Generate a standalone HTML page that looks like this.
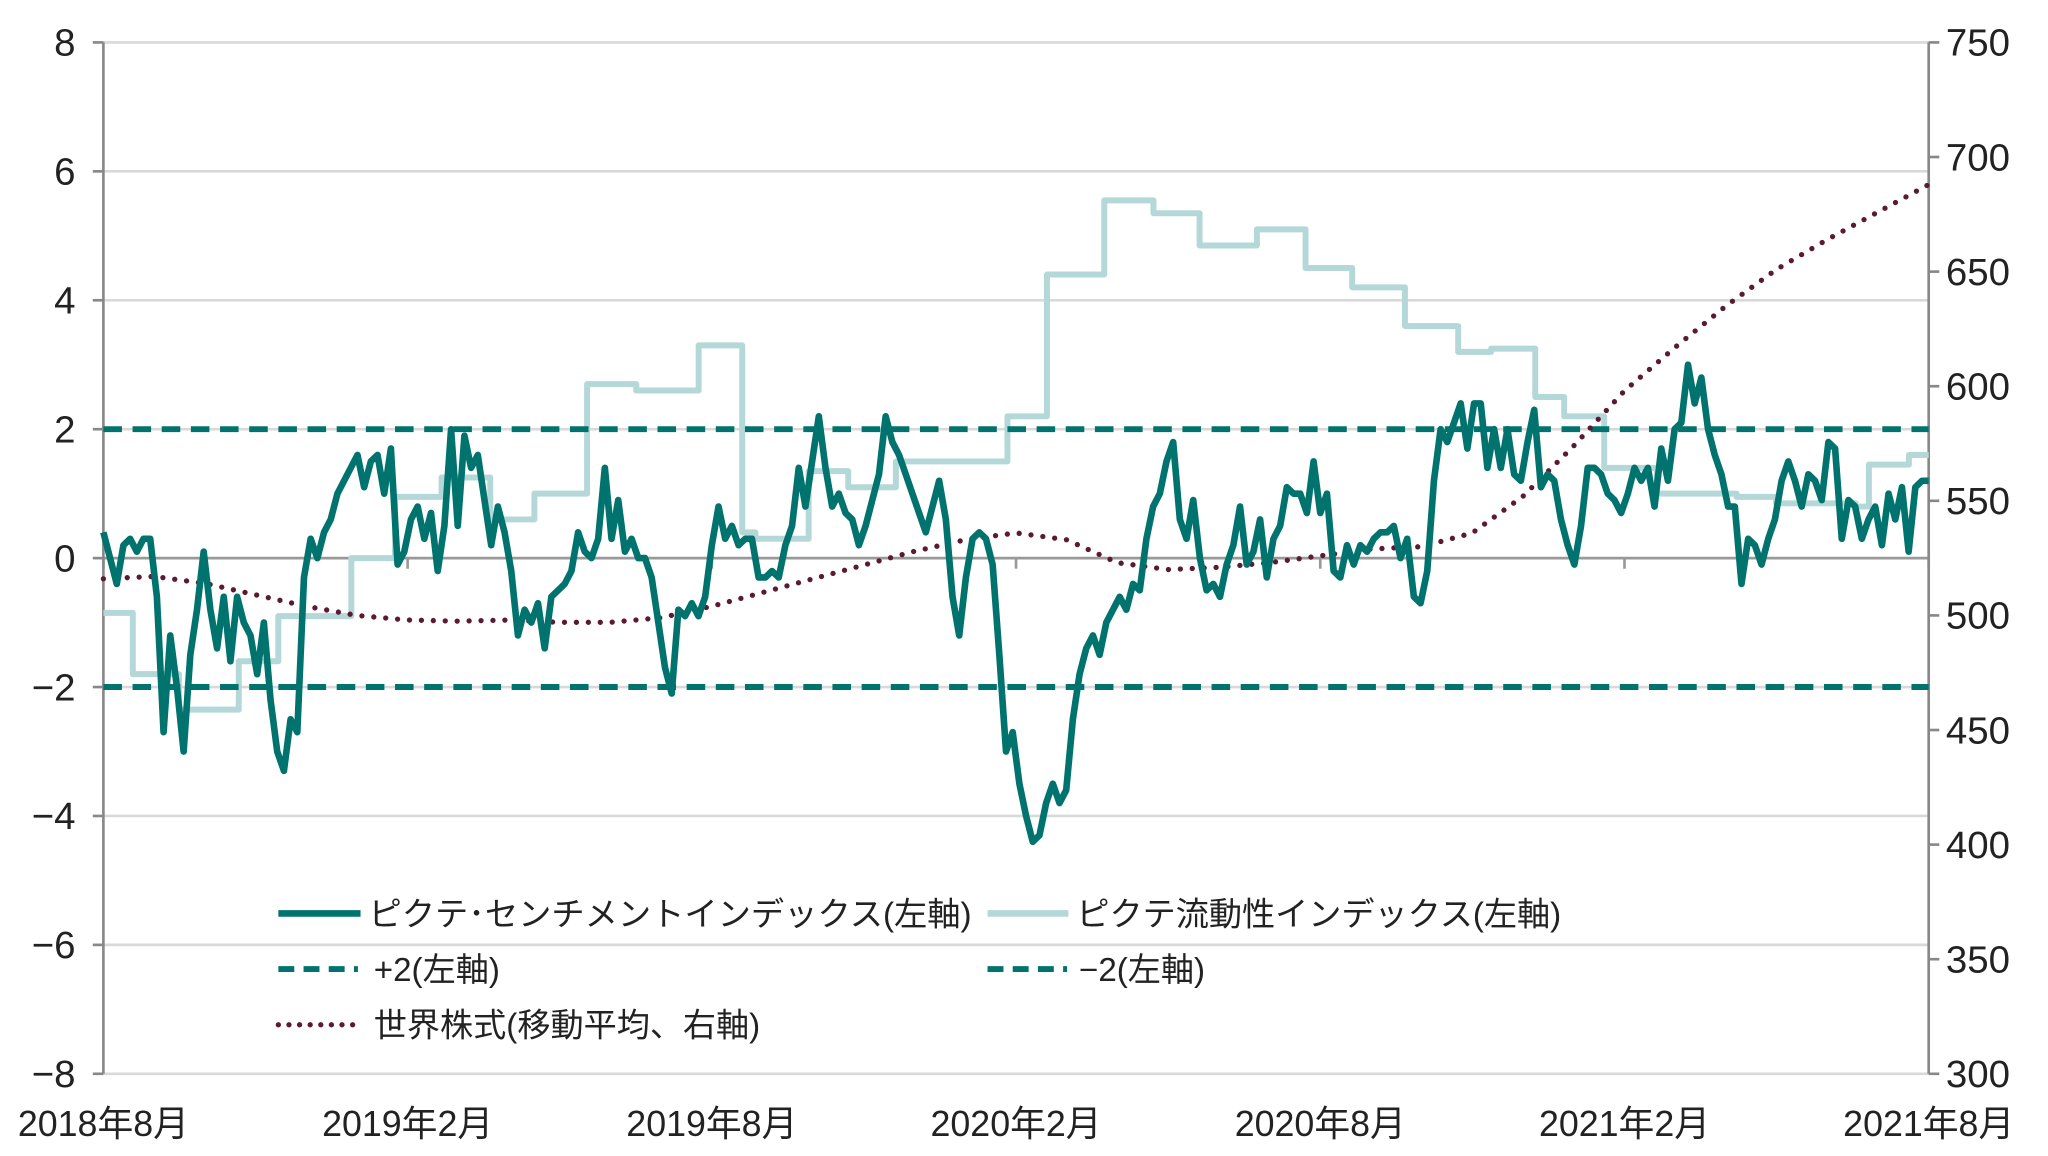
<!DOCTYPE html>
<html><head><meta charset="utf-8"><style>
html,body{margin:0;padding:0;background:#fff;}
svg{display:block;}
text{font-family:"Liberation Sans","Noto Sans CJK JP",sans-serif;fill:#222;}
</style></head><body>
<svg id="chart" width="2048" height="1156" viewBox="0 0 1545 872" preserveAspectRatio="none" xmlns="http://www.w3.org/2000/svg">
<g id="grid"></g>
<g id="axes"></g>
<g id="series"></g>
<g id="legend"></g>
</svg>
<script>
const leftTicks = [8,6,4,2,0,-2,-4,-6,-8];
const leftTickLabels = ["8","6","4","2","0","\u22122","\u22124","\u22126","\u22128"];
const rightTicks = [750,700,650,600,550,500,450,400,350,300];
const xTickMonths = [0,6,12,18,24,30,36];
const xTickLabels = ["2018年8月","2019年2月","2019年8月","2020年2月","2020年8月","2021年2月","2021年8月"];
const sentiment = [0.4,0,-0.4,0.2,0.3,0.1,0.3,0.3,-0.6,-2.7,-1.2,-2.0,-3.0,-1.5,-0.8,0.1,-0.8,-1.4,-0.6,-1.6,-0.6,-1.0,-1.2,-1.8,-1.0,-2.2,-3.0,-3.3,-2.5,-2.7,-0.3,0.3,0.0,0.4,0.6,1.0,1.2,1.4,1.6,1.1,1.5,1.6,1.0,1.7,-0.1,0.1,0.6,0.8,0.3,0.7,-0.2,0.5,2.0,0.5,1.9,1.4,1.6,0.9,0.2,0.8,0.4,-0.2,-1.2,-0.8,-1.0,-0.7,-1.4,-0.6,-0.5,-0.4,-0.2,0.4,0.1,0.0,0.3,1.4,0.3,0.9,0.1,0.3,0.0,0.0,-0.3,-1.0,-1.7,-2.1,-0.8,-0.9,-0.7,-0.9,-0.6,0.2,0.8,0.3,0.5,0.2,0.3,0.3,-0.3,-0.3,-0.2,-0.3,0.2,0.5,1.4,0.8,1.5,2.2,1.4,0.8,1.0,0.7,0.6,0.2,0.5,0.9,1.3,2.2,1.8,1.6,1.3,1.0,0.7,0.4,0.8,1.2,0.6,-0.6,-1.2,-0.3,0.3,0.4,0.3,-0.1,-1.5,-3.0,-2.7,-3.5,-4.0,-4.4,-4.3,-3.8,-3.5,-3.8,-3.6,-2.5,-1.8,-1.4,-1.2,-1.5,-1.0,-0.8,-0.6,-0.8,-0.4,-0.5,0.3,0.8,1.0,1.5,1.8,0.6,0.3,0.9,0.0,-0.5,-0.4,-0.6,-0.1,0.2,0.8,-0.1,0.1,0.6,-0.3,0.3,0.5,1.1,1.0,1.0,0.7,1.5,0.7,1.0,-0.2,-0.3,0.2,-0.1,0.2,0.1,0.3,0.4,0.4,0.5,0.0,0.3,-0.6,-0.7,-0.2,1.2,2.0,1.8,2.1,2.4,1.7,2.4,2.4,1.4,2.0,1.4,2.0,1.3,1.2,1.8,2.3,1.1,1.3,1.2,0.6,0.2,-0.1,0.5,1.4,1.4,1.3,1.0,0.9,0.7,1.0,1.4,1.2,1.4,0.8,1.7,1.2,2.0,2.1,3.0,2.4,2.8,2.0,1.6,1.3,0.8,0.8,-0.4,0.3,0.2,-0.1,0.3,0.6,1.2,1.5,1.2,0.8,1.3,1.2,0.9,1.8,1.7,0.3,0.9,0.8,0.3,0.6,0.8,0.2,1.0,0.6,1.1,0.1,1.1,1.2,1.2];
const liquidityStartMonths = [0,0.58,1.49,2.67,3.45,4.89,5.75,6.67,7.63,8.5,9.54,10.51,11.74,12.6,12.86,13.91,14.69,15.63,17.83,18.61,19.74,20.71,21.62,22.75,23.71,24.63,25.67,26.72,27.37,28.24,28.81,29.6,30.64,32.21,32.99,34.56,34.82,35.61];
const liquidityValues = [-0.85,-1.8,-2.35,-1.6,-0.9,0,0.95,1.25,0.6,1.0,2.7,2.6,3.3,0.4,0.3,1.35,1.1,1.5,2.2,4.4,5.55,5.35,4.85,5.1,4.5,4.2,3.6,3.2,3.25,2.5,2.2,1.4,1.0,0.95,0.85,0.8,1.45,1.6];
const equityValues = [516,517,514,509,504,500,498,497.5,498,497,497,499,504,510,516,522,528,533,536,533,523,520,521,523,526,529,530,536,552,574,598,617,635,651,664,676,688];
const bands = [2,-2];

const NS="http://www.w3.org/2000/svg";
const X0=78,X1=1455,Y0=32,Y1=810;
const xm=m=>X0+(X1-X0)*m/36;
const yl=v=>Y0+(8-v)*(Y1-Y0)/16;
const yr=v=>Y0+(750-v)*(Y1-Y0)/450;
function mk(tag,attrs,parent){const e=document.createElementNS(NS,tag);for(const k in attrs)e.setAttribute(k,attrs[k]);parent.appendChild(e);return e;}
const grid=document.getElementById('grid'),axes=document.getElementById('axes'),series=document.getElementById('series'),legend=document.getElementById('legend');

leftTicks.forEach((v,i)=>{
  if(v!==0&&v!==-8){const g=mk('line',{x1:X0,x2:X1,y1:yl(v),y2:yl(v),stroke:'#d9d9d9','stroke-width':2},grid);
  
  }
  const t=mk('line',{x1:X0-8,x2:X0,y1:yl(v),y2:yl(v),stroke:'#888','stroke-width':2},axes);
  
  
  const l=mk('text',{x:57,y:yl(v)+10,'text-anchor':'end','font-size':29},axes);
  l.textContent=leftTickLabels[i];
  
  
});
const bl=mk('line',{x1:X0,x2:X1,y1:Y1,y2:Y1,stroke:'#d9d9d9','stroke-width':2},grid);


const zl=mk('line',{x1:X0,x2:X1,y1:yl(0),y2:yl(0),stroke:'#999','stroke-width':2},axes);


xTickMonths.forEach((m,i)=>{
  const t=mk('line',{x1:xm(m),x2:xm(m),y1:yl(0),y2:yl(0)+8,stroke:'#999','stroke-width':2},axes);
  
  
  const l=mk('text',{x:xm(m),y:857,'text-anchor':'middle','font-size':27},axes);
  l.textContent=xTickLabels[i];
  
  
});
rightTicks.forEach(v=>{
  const t=mk('line',{x1:X1,x2:X1+8,y1:yr(v),y2:yr(v),stroke:'#888','stroke-width':2},axes);
  
  
  const l=mk('text',{x:1468,y:yr(v)+10,'font-size':29},axes);
  l.textContent=String(v);
  
  
});
const la=mk('line',{x1:X0,x2:X0,y1:Y0,y2:Y1,stroke:'#888','stroke-width':2},axes);


const ra=mk('line',{x1:X1,x2:X1,y1:Y0,y2:Y1,stroke:'#888','stroke-width':2},axes);



let d='';
liquidityStartMonths.forEach((m,i)=>{
  const end=i<liquidityStartMonths.length-1?liquidityStartMonths[i+1]:36;
  d+=(i===0?'M':'L')+xm(m)+','+yl(liquidityValues[i])+'L'+xm(end)+','+yl(liquidityValues[i]);
});
const lq=mk('path',{d:d,fill:'none',stroke:'#b3d8d7','stroke-width':4.5,'stroke-linejoin':'round'},series);



bands.forEach(b=>{
  const bd=mk('line',{x1:X0,x2:X1,y1:yl(b),y2:yl(b),stroke:'#00736e','stroke-width':4.5,'stroke-dasharray':'14 8'},series);
  
  
});

const ep=equityValues.map((v,i)=>xm(i)+','+yr(v)).join(' ');
const eq=mk('polyline',{points:ep,fill:'none',stroke:'#5b1a33','stroke-width':4,'stroke-dasharray':'0 9','stroke-linecap':'round'},series);



const n=sentiment.length;
const sp=sentiment.map((v,i)=>xm(i*36/(n-1))+','+yl(v)).join(' ');
const se=mk('polyline',{points:sp,fill:'none',stroke:'#00736e','stroke-width':5,'stroke-linejoin':'round'},series);



function entry(x1,x2,y,style,label,tx,name,maxw){
  const s=mk('line',Object.assign({x1:x1,x2:x2,y1:y,y2:y},style),legend);
  
  
  const t=mk('text',{x:tx,y:y+9,'font-size':25},legend);
  t.textContent=label;
  if(maxw){t.setAttribute('textLength',maxw);t.setAttribute('lengthAdjust','spacingAndGlyphs');}
  
  
}
entry(210,272,689,{stroke:'#00736e','stroke-width':5},'ピクテ･センチメントインデックス(左軸)',278,'legend-sentiment',455);
entry(745,806,689,{stroke:'#b3d8d7','stroke-width':5},'ピクテ流動性インデックス(左軸)',812,'legend-liquidity');
entry(210,270,731,{stroke:'#00736e','stroke-width':4.5,'stroke-dasharray':'12 7'},'+2(左軸)',282,'legend-plus2');
entry(745,805,731,{stroke:'#00736e','stroke-width':4.5,'stroke-dasharray':'12 7'},'−2(左軸)',814,'legend-minus2');
entry(210,268,773,{stroke:'#5b1a33','stroke-width':4,'stroke-dasharray':'0 8','stroke-linecap':'round'},'世界株式(移動平均、右軸)',282,'legend-equity');
</script>
</body></html>
